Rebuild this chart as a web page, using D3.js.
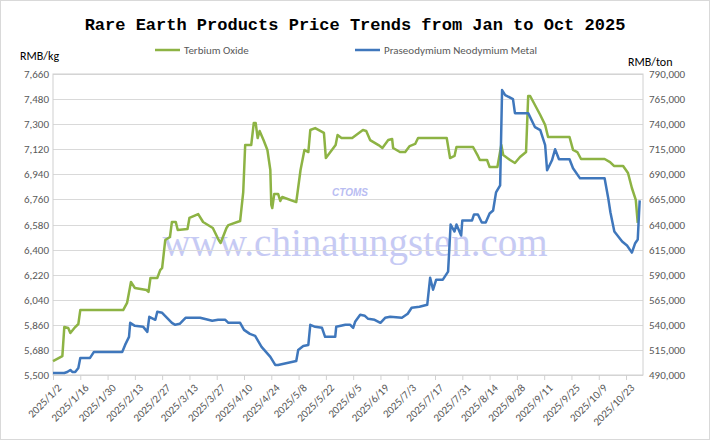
<!DOCTYPE html>
<html><head><meta charset="utf-8">
<script src="https://cdn.jsdelivr.net/npm/d3@7/dist/d3.min.js"></script>
<style>body{margin:0;background:#fff}svg{display:block}</style></head>
<body><svg id="c" width="710" height="440"></svg>
<script>
const startDate = "2025-01-02";
const terbiumDays = [0,4.8,5.8,7.8,8.9,11.4,13,14,36,38,40,42,48,49,50,53.5,55,56,57.6,60,61,63,64,69,70,74.5,77,82,85,86,89,90,96,97.6,98.6,101.7,103,104,105,106,108,110,111.5,112,112.5,113.5,115.5,116.6,117.6,124.8,127,129,131,132,134.5,139,140,145,146,148,153.5,159,160.7,162.7,167,169,172,174,174.5,178,180.7,183,185.8,187.3,202,203.7,206,207,215.5,218,219,222.7,224,228,230,231,234.5,237,239.6,242.7,243.8,244.8,250,252.5,254,265,266.8,269,270.9,283,285.8,287.8,292.5,295,297,299,300];
const terbiumValues = [5600,5636,5844,5837,5801,5844,5866,5966,5966,6017,6167,6124,6110,6096,6196,6196,6253,6268,6469,6490,6598,6598,6541,6548,6627,6655,6598,6555,6469,6447,6555,6576,6605,6813,7150,7150,7308,7308,7200,7251,7186,7115,6971,6720,6698,6799,6799,6749,6777,6741,6971,7115,7100,7258,7272,7237,7057,7150,7222,7201,7201,7258,7251,7186,7150,7129,7186,7193,7129,7100,7100,7143,7158,7201,7201,7057,7072,7136,7136,7072,7043,7043,6993,6993,7150,7079,7043,7021,7064,7100,7502,7502,7366,7294,7208,7208,7115,7100,7050,7050,7028,7000,7000,6950,6842,6756,6591];
const prndDays = [0,5.8,7.3,8.9,9.9,11.4,13,14,19,21,35.5,37,39,39.6,42,46.3,48.4,49.4,52.5,53.5,56,59,61,62.7,65,68,75.5,81.7,84.7,88.4,90,96,98,101,103.7,107,111.5,114,115.5,124.8,125.8,128.4,131,132,134.5,138,139.6,144.8,145.3,150,152.5,154,155,157.6,160,161.7,165,168,170.4,173,179,182,184,188,192,193.5,195,196.6,200,202.7,204,206,207,209.4,210,215,216,218,220,222,224,225.8,227.3,229.4,230.4,232,236,237,243.8,247.3,250,252.5,253.5,256,257.6,259.6,265,266.8,270.4,283,284.8,286,288,292,294.5,297,298.6,300,301];
const prndValues = [492000,492000,493000,495000,493000,493000,497000,507000,507000,513000,513000,520000,528000,542000,539000,538000,533000,548000,545000,553000,552000,546000,542000,540000,541000,547000,547000,544000,545000,545000,542000,542000,535000,531000,529000,518000,508000,500000,500000,504000,515000,519000,520000,540000,538000,537000,528000,528000,538000,540000,540000,537000,543000,550000,549000,546000,545000,542000,547000,548000,547000,551000,557000,558000,560000,587000,575000,585000,585000,593000,640000,633000,640000,629000,644000,644000,650000,650000,642000,642000,651000,654000,672000,679000,774000,769000,765000,751000,751000,737000,734000,719000,694000,704000,715000,705000,705000,696000,686000,686000,667000,652000,633000,623000,619000,612000,621000,625000,664000];
const leftTicks = d3.range(5500, 7661, 180);
const rightTicks = d3.range(490000, 790001, 25000);
const xTickDays = d3.range(0, 295, 14);

const svg = d3.select("#c");
const W=710,H=440, L=53, R=643, T=74, B=375;
const t0 = new Date(2025,0,2);
const dt = d => new Date(t0.getTime()+d*86400000);
const x = d3.scaleTime().domain([t0, dt(302.7)]).range([L,R]);
const yL = d3.scaleLinear().domain([5500,7660]).range([B,T]);
const yR = d3.scaleLinear().domain([490000,790000]).range([B,T]);
const font = "Calibri, Carlito, 'Liberation Sans', Arial, sans-serif";

svg.append("rect").attr("x",0.5).attr("y",0.5).attr("width",W-1).attr("height",H-1).attr("fill","#fff").attr("stroke","#d9d9d9");

// watermark
svg.append("text").attr("x",355).attr("y",256).attr("text-anchor","middle")
  .attr("font-family","'Liberation Serif','DejaVu Serif',serif").attr("font-size",39)
  .attr("fill","#b9bdf2").attr("opacity",0.8).text("www.chinatungsten.com");
svg.append("text").attr("x",350).attr("y",196).attr("text-anchor","middle")
  .attr("font-family","Arial,sans-serif").attr("font-style","italic").attr("font-weight","bold").attr("font-size",10)
  .attr("fill","#b9bdf2").text("CTOMS");

// grid
svg.append("g").selectAll("line").data(leftTicks).join("line")
  .attr("x1",L).attr("x2",R).attr("y1",d=>Math.round(yL(d))+0.5).attr("y2",d=>Math.round(yL(d))+0.5)
  .attr("stroke","#d9d9d9");
svg.append("rect").attr("x",L).attr("y",T).attr("width",R-L).attr("height",B-T).attr("fill","none").attr("stroke","#d0d0d0");

// axes
const gl = svg.append("g").attr("transform",`translate(${L},0)`)
  .call(d3.axisLeft(yL).tickValues(leftTicks).tickSize(0).tickPadding(4).tickFormat(d3.format(",")));
const gr = svg.append("g").attr("transform",`translate(${R},0)`)
  .call(d3.axisRight(yR).tickValues(rightTicks).tickSize(0).tickPadding(6).tickFormat(d3.format(",")));
const gx = svg.append("g").attr("transform",`translate(0,${B})`)
  .call(d3.axisBottom(x).tickValues(xTickDays.map(dt)).tickSize(5)
    .tickFormat(d=>`${d.getFullYear()}/${d.getMonth()+1}/${d.getDate()}`));
[gl,gr,gx].forEach(g=>{g.select(".domain").remove();
  g.selectAll("text").attr("font-family",font).attr("font-size",11).attr("fill","#595959");});
gx.selectAll("line").attr("stroke","#d0d0d0");
gx.selectAll("text").attr("text-anchor","end").attr("dx",0).attr("dy",0)
  .attr("transform","translate(3,8) rotate(-45)");

// lines
const lineT = d3.line().x(d=>x(dt(d[0]))).y(d=>yL(d[1]));
const lineP = d3.line().x(d=>x(dt(d[0]))).y(d=>yR(d[1]));
svg.append("path").datum(terbiumDays.map((d,i)=>[d,terbiumValues[i]])).attr("d",lineT)
  .attr("fill","none").attr("stroke","#8db344").attr("stroke-width",2.5).attr("stroke-linejoin","round");
svg.append("path").datum(prndDays.map((d,i)=>[d,prndValues[i]])).attr("d",lineP)
  .attr("fill","none").attr("stroke","#3f77bc").attr("stroke-width",2.5).attr("stroke-linejoin","round");

// title
svg.append("text").attr("x",355).attr("y",30).attr("text-anchor","middle")
  .attr("font-family","'Liberation Mono','Courier New',monospace").attr("font-weight","bold").attr("font-size",17)
  .attr("fill","#000").text("Rare Earth Products Price Trends from Jan to Oct 2025");
svg.append("text").attr("x",20).attr("y",60).attr("font-family",font).attr("font-size",12).attr("fill","#000").text("RMB/kg");
svg.append("text").attr("x",628).attr("y",66).attr("font-family",font).attr("font-size",12).attr("fill","#000").text("RMB/ton");

// legend
const leg = [["Terbium Oxide","#8db344",155],["Praseodymium Neodymium Metal","#3f77bc",355]];
leg.forEach(([n,c,lx])=>{
  svg.append("line").attr("x1",lx).attr("x2",lx+25).attr("y1",50).attr("y2",50).attr("stroke",c).attr("stroke-width",2.5);
  svg.append("text").attr("x",lx+29).attr("y",54).attr("font-family",font).attr("font-size",11).attr("fill","#595959").text(n);
});
</script></body></html>
